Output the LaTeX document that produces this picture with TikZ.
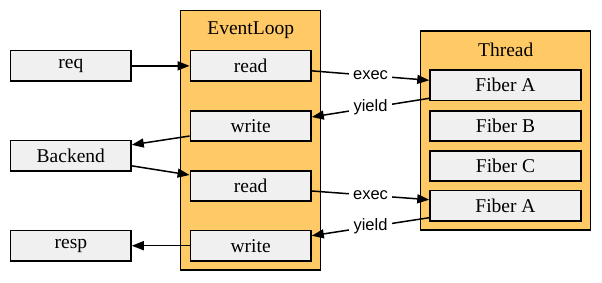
\documentclass[tikz,border=0pt]{standalone}
\usepackage{fontspec}
\setmainfont{Liberation Serif}
\newfontfamily\labelfont{Liberation Sans}
\usetikzlibrary{arrows.meta}
\definecolor{boxgrey}{HTML}{F0F0F0}
\definecolor{groupfill}{HTML}{FFCA66}
\tikzset{
  group/.style={draw=black, line width=1.5pt, fill=groupfill, inner sep=0pt},
  cell/.style={draw=black, line width=1.5pt, fill=boxgrey, inner sep=0pt,
    minimum height=30.3pt, font=\fontsize{19.5}{22}\selectfont},
  title/.style={font=\fontsize{19.5}{22}\selectfont, inner sep=0pt},
  flow/.style={line width=1.5pt, -{Triangle[length=12pt,width=9pt]}},
  tag/.style={fill=white, inner sep=4.5pt, font=\labelfont\fontsize{16.5}{19}\selectfont}
}
\begin{document}
\begin{tikzpicture}[x=1pt, y=-1pt]
  \useasboundingbox (0,0) rectangle (602,282);

  % containers
  \node[group, minimum width=140pt, minimum height=259.3pt] (loop) at (250.7,140.35) {};
  \node[group, minimum width=170pt, minimum height=199pt] (thread) at (505.7,130.5) {};
  \node[title] (looptitle) at (250.7,30) {EventLoop};
  \node[title] (threadtitle) at (505.7,50) {Thread};

  % event loop steps
  \node[cell, minimum width=120.7pt] (read1) at (250.7,65.85) {read};
  \node[cell, minimum width=120.7pt] (write1) at (250.7,126) {write};
  \node[cell, minimum width=120.7pt] (read2) at (250.7,186) {read};
  \node[cell, minimum width=120.7pt] (write2) at (250.7,245.7) {write};

  % outside endpoints
  \node[cell, minimum width=120.3pt] (req) at (70.85,65.85) {req};
  \node[cell, minimum width=120.3pt] (backend) at (70.85,155.85) {Backend};
  \node[cell, minimum width=120.3pt] (resp) at (70.85,245.7) {resp};

  % fibers
  \node[cell, minimum width=151pt] (fa1) at (505.5,85.3) {Fiber A};
  \node[cell, minimum width=151pt] (fb) at (505.5,126) {Fiber B};
  \node[cell, minimum width=151pt] (fc) at (505.5,166) {Fiber C};
  \node[cell, minimum width=151pt] (fa2) at (505.5,205.7) {Fiber A};

  % request / backend / response flow
  \draw[flow] (req.east) -- (read1.west);
  \draw[flow] ([yshift=-10pt]write1.west) -- ([yshift=11pt]backend.east);
  \draw[flow] ([yshift=-10pt]backend.east) -- ([yshift=11pt]read2.west);
  \draw[flow] (write2.west) -- (resp.east);

  % fiber scheduling
  \draw[flow] ([yshift=-5pt]read1.east) -- node[tag] {exec} ([yshift=5pt]fa1.west);
  \draw[flow] ([yshift=-13pt]fa1.west) -- node[tag] {yield} ([yshift=9pt]write1.east);
  \draw[flow] ([yshift=-5pt]read2.east) -- node[tag] {exec} ([yshift=6pt]fa2.west);
  \draw[flow] ([yshift=-12pt]fa2.west) -- node[tag] {yield} ([yshift=10pt]write2.east);
\end{tikzpicture}
\end{document}
